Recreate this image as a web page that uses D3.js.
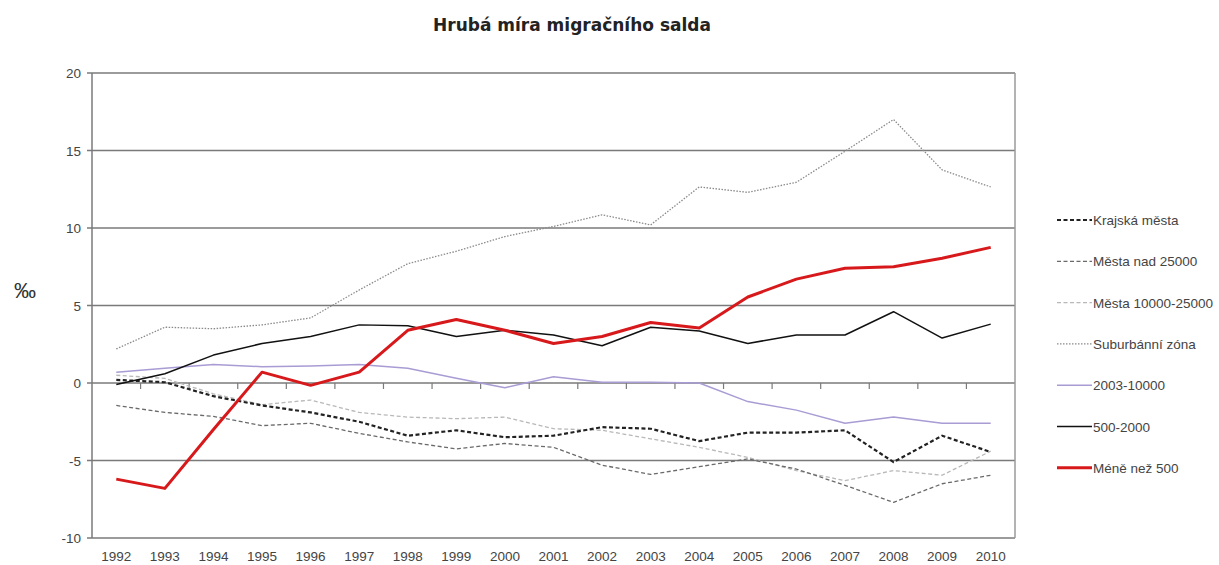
<!DOCTYPE html>
<html>
<head>
<meta charset="utf-8">
<script src="https://cdn.jsdelivr.net/npm/d3@7"></script>
<style>
    body { margin: 0; background: #fff; }
    svg { display: block; font-family: "Liberation Sans", Arial, sans-serif; }
</style>
</head>
<body>
<div class="charts-div"></div>
<script>
const years = ["1992", "1993", "1994", "1995", "1996", "1997", "1998", "1999", "2000", "2001",
    "2002", "2003", "2004", "2005", "2006", "2007", "2008", "2009", "2010"];

const yTicks = [-10, -5, 0, 5, 10, 15, 20];

const seriesNames = ["Krajská města", "Města nad 25000", "Města 10000-25000", "Suburbánní zóna",
    "2003-10000", "500-2000", "Méně než 500"];

const krajskaMesta = [0.2, 0.05, -0.85, -1.45, -1.9, -2.5, -3.4, -3.05, -3.5, -3.4,
    -2.85, -2.95, -3.75, -3.2, -3.2, -3.05, -5.1, -3.4, -4.45];
const mestaNad25000 = [-1.45, -1.9, -2.15, -2.75, -2.6, -3.25, -3.8, -4.25, -3.9, -4.15,
    -5.3, -5.9, -5.4, -4.9, -5.55, -6.6, -7.7, -6.5, -5.95];
const mesta10000 = [0.5, 0.3, -0.7, -1.4, -1.1, -1.9, -2.2, -2.3, -2.2, -2.95,
    -3.05, -3.6, -4.15, -4.8, -5.65, -6.3, -5.65, -5.95, -4.4];
const suburbanniZona = [2.2, 3.6, 3.5, 3.75, 4.2, 6.0, 7.7, 8.5, 9.45, 10.1,
    10.85, 10.2, 12.65, 12.3, 12.95, 14.95, 17.0, 13.75, 12.65];
const obce2003 = [0.7, 0.95, 1.2, 1.05, 1.1, 1.2, 0.95, 0.3, -0.3, 0.4,
    0.05, 0.05, 0.0, -1.2, -1.75, -2.6, -2.2, -2.6, -2.6];
const obce500 = [-0.1, 0.6, 1.8, 2.55, 3.0, 3.75, 3.7, 3.0, 3.4, 3.1,
    2.4, 3.6, 3.35, 2.55, 3.1, 3.1, 4.6, 2.9, 3.8];
const meneNez500 = [-6.2, -6.8, -3.0, 0.7, -0.15, 0.7, 3.4, 4.1, 3.4, 2.55,
    3.0, 3.9, 3.55, 5.55, 6.7, 7.4, 7.5, 8.05, 8.75];

const chartGeneration = () => {
    const width = 1219, height = 565;
    const margin = { top: 73, right: 204, bottom: 27, left: 92 };

    const styles = [
        { color: "#222", width: 2.2, dash: "4,2.5" },
        { color: "#6a6a6a", width: 1.3, dash: "4,2.5" },
        { color: "#b8b8b8", width: 1.3, dash: "4,2.5" },
        { color: "#8a8a8a", width: 1.3, dash: "1.5,1.5" },
        { color: "#a99cd4", width: 1.5, dash: null },
        { color: "#111", width: 1.5, dash: null },
        { color: "#d7191c", width: 3, dash: null }
    ];
    const values = [krajskaMesta, mestaNad25000, mesta10000, suburbanniZona, obce2003, obce500, meneNez500];

    const svg = d3.select(".charts-div").append("svg")
        .attr("width", width)
        .attr("height", height);

    const x = d3.scaleBand().domain(years).range([margin.left, width - margin.right]).padding(0);
    const y = d3.scaleLinear().domain([-10, 20]).range([height - margin.bottom, margin.top]);

    svg.append("text")
        .attr("x", 572)
        .attr("y", 31)
        .attr("text-anchor", "middle")
        .attr("font-family", "DejaVu Sans")
        .attr("font-size", 17)
        .attr("font-weight", "bold")
        .attr("fill", "#222")
        .text("Hrubá míra migračního salda");

    // horizontal grid
    svg.append("g")
        .selectAll("line")
        .data(yTicks)
        .join("line")
        .attr("x1", margin.left - 5)
        .attr("x2", width - margin.right)
        .attr("y1", (d) => y(d))
        .attr("y2", (d) => y(d))
        .attr("stroke", "#7a7a7a")
        .attr("stroke-width", 1.5);

    svg.append("g")
        .selectAll("text")
        .data(yTicks)
        .join("text")
        .attr("x", margin.left - 11)
        .attr("y", (d) => y(d) + 5)
        .attr("text-anchor", "end")
        .attr("font-size", 13.5)
        .attr("fill", "#444")
        .text((d) => d);

    // plot border left / right
    svg.append("line")
        .attr("x1", margin.left).attr("x2", margin.left)
        .attr("y1", y(20)).attr("y2", y(-10))
        .attr("stroke", "#7a7a7a").attr("stroke-width", 1.5);
    svg.append("line")
        .attr("x1", width - margin.right).attr("x2", width - margin.right)
        .attr("y1", y(20)).attr("y2", y(-10))
        .attr("stroke", "#9a9a9a").attr("stroke-width", 1.5);

    // category ticks on zero line
    svg.append("g")
        .selectAll("line")
        .data(years.slice(1))
        .join("line")
        .attr("x1", (d) => x(d))
        .attr("x2", (d) => x(d))
        .attr("y1", y(0))
        .attr("y2", y(0) + 6)
        .attr("stroke", "#7a7a7a")
        .attr("stroke-width", 1.2);

    svg.append("g")
        .selectAll("text")
        .data(years)
        .join("text")
        .attr("x", (d) => x(d) + x.bandwidth() / 2)
        .attr("y", 561)
        .attr("text-anchor", "middle")
        .attr("font-size", 13.5)
        .attr("fill", "#444")
        .text((d) => d);

    svg.append("text")
        .attr("x", 25)
        .attr("y", 298)
        .attr("text-anchor", "middle")
        .attr("font-size", 22)
        .attr("fill", "#333")
        .text("‰");

    const line = d3.line()
        .x((d, i) => x(years[i]) + x.bandwidth() / 2)
        .y((d) => y(d));

    const order = [4, 2, 1, 0, 3, 5, 6];
    svg.append("g")
        .selectAll("path")
        .data(order)
        .join("path")
        .attr("fill", "none")
        .attr("stroke", (k) => styles[k].color)
        .attr("stroke-width", (k) => styles[k].width)
        .attr("stroke-dasharray", (k) => styles[k].dash)
        .attr("stroke-linejoin", "round")
        .attr("d", (k) => line(values[k]));

    // legend
    const legend = svg.append("g")
        .selectAll("g")
        .data(seriesNames)
        .join("g")
        .attr("transform", (d, i) => `translate(1057, ${220 + i * 41.3})`);

    legend.append("line")
        .attr("x1", 0).attr("x2", 35)
        .attr("stroke", (d, i) => styles[i].color)
        .attr("stroke-width", (d, i) => styles[i].width)
        .attr("stroke-dasharray", (d, i) => styles[i].dash);

    legend.append("text")
        .attr("x", 36)
        .attr("y", 5)
        .attr("font-size", 13.5)
        .attr("fill", "#444")
        .text((d) => d);
};

chartGeneration();
</script>
</body>
</html>
